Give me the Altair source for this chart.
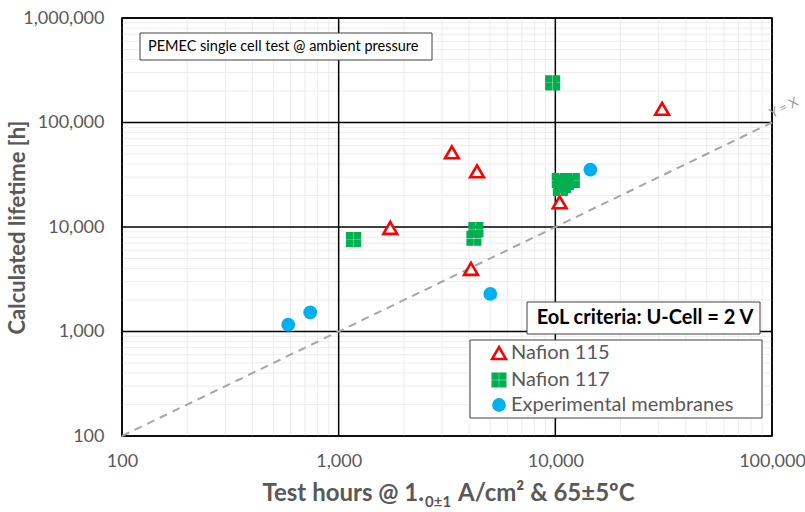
import altair as alt
import pandas as pd

# ---------------- data ----------------
series_names = ["Nafion 115", "Nafion 117", "Experimental membranes"]

n115_x = [1730, 3330, 4350, 4080, 10470, 31100]
n115_y = [9800, 51900, 34150, 3970, 17240, 135100]

n117_x = [1170, 9720, 4300, 4210, 10430, 11980, 11240, 10550, 10890]
n117_y = [7580, 239600, 9440, 7800, 27820, 27820, 26610, 23320, 24910]

exp_x = [585, 739, 5010, 14510]
exp_y = [1163, 1525, 2288, 35430]

x_major = [100, 1000, 10000, 100000]
y_major = [100, 1000, 10000, 100000, 1000000]
x_minor = [m * d for d in [100, 1000, 10000] for m in range(2, 10)]
y_minor = [m * d for d in [100, 1000, 10000, 100000] for m in range(2, 10)]
diag_vals = [100, 100000]

# ---------------- tables ----------------
pts = pd.DataFrame(
    {
        "x": n115_x + n117_x + exp_x,
        "y": n115_y + n117_y + exp_y,
        "series": [series_names[0]] * len(n115_x)
        + [series_names[1]] * len(n117_x)
        + [series_names[2]] * len(exp_x),
    }
)
diag = pd.DataFrame({"x": diag_vals, "y": diag_vals})
xmin_df = pd.DataFrame({"x": x_minor})
ymin_df = pd.DataFrame({"y": y_minor})
xmaj_df = pd.DataFrame({"x": x_major})
ymaj_df = pd.DataFrame({"y": y_major})

W, H = 650, 418
FONT = "Lato"
GRAY = "#595959"

xscale = alt.Scale(type="log", domain=[100, 100000], nice=False)
yscale = alt.Scale(type="log", domain=[100, 1000000], nice=False)

xaxis = alt.Axis(values=x_major, format=",", grid=False, ticks=False, domain=False,
                 labelFont=FONT, labelFontSize=18, labelColor=GRAY, labelPadding=16,
                 labelFlush=False, labelOverlap=False, title=None)
yaxis = alt.Axis(values=y_major, format=",", grid=False, ticks=False, domain=False,
                 labelFont=FONT, labelFontSize=18, labelColor=GRAY, labelPadding=18,
                 labelFlush=False, labelOverlap=False,
                 title="Calculated lifetime [h]", titleFont=FONT, titleFontSize=22,
                 titleFontWeight="bold", titleColor=GRAY, titleAngle=270,
                 titleX=-105, titleY=H / 2, titleAlign="center", titleBaseline="middle")

X = alt.X("x:Q", scale=xscale, axis=xaxis)
Y = alt.Y("y:Q", scale=yscale, axis=yaxis)

minor_x = alt.Chart(xmin_df).mark_rule(color="#ECECEC", strokeWidth=1).encode(x=X)
minor_y = alt.Chart(ymin_df).mark_rule(color="#ECECEC", strokeWidth=1).encode(y=Y)
major_x = alt.Chart(xmaj_df).mark_rule(color="black", strokeWidth=1.5).encode(x=X)
major_y = alt.Chart(ymaj_df).mark_rule(color="black", strokeWidth=1.5).encode(y=Y)

diag_line = alt.Chart(diag).mark_line(
    color="#A6A6A6", strokeWidth=2, strokeDash=[8, 6]
).encode(x=X, y=Y)

diag_label = alt.Chart(diag.iloc[[1]]).mark_text(
    text="Y = X", color="#9A9A9A", fontSize=13, font=FONT, angle=334,
    dx=17, dy=-8, align="center", baseline="middle"
).encode(x=X, y=Y)

one = pd.DataFrame({"a": [0]})

# annotation boxes
box1 = alt.Chart(one).mark_rect(
    fill="white", stroke="#404040", strokeWidth=1
).encode(x=alt.value(18), x2=alt.value(310), y=alt.value(15), y2=alt.value(42))
txt1 = alt.Chart(one).mark_text(
    text="PEMEC single cell test @ ambient pressure", font=FONT, fontSize=14.5,
    color="black", align="left", baseline="middle"
).encode(x=alt.value(26), y=alt.value(28.5))

box2 = alt.Chart(one).mark_rect(
    fill="white", stroke="#404040", strokeWidth=1
).encode(x=alt.value(405), x2=alt.value(638), y=alt.value(284), y2=alt.value(316))
txt2 = alt.Chart(one).mark_text(
    text="EoL criteria: U-Cell = 2 V", font=FONT, fontSize=20, fontWeight="bold",
    color="black", align="center", baseline="middle"
).encode(x=alt.value(523), y=alt.value(300))

legend_box = alt.Chart(one).mark_rect(
    fill="white", stroke="#404040", strokeWidth=1
).encode(x=alt.value(348), x2=alt.value(640), y=alt.value(322), y2=alt.value(400))

square_cross = (
    "M-1,-1H-0.12V-0.12H-1Z M0.12,-1H1V-0.12H0.12Z "
    "M-1,0.12H-0.12V1H-1Z M0.12,0.12H1V1H0.12Z"
)

points = alt.Chart(pts).mark_point(filled=False, opacity=1, size=190).encode(
    x=X,
    y=Y,
    shape=alt.Shape("series:N", scale=alt.Scale(domain=series_names,
                    range=["triangle-up", square_cross, "circle"]),
                    legend=alt.Legend(title=None)),
    fill=alt.Fill("series:N", scale=alt.Scale(domain=series_names,
                  range=["white", "#00B050", "#00B0F0"]), legend=alt.Legend(title=None)),
    stroke=alt.Stroke("series:N", scale=alt.Scale(domain=series_names,
                      range=["#FF0000", "#00B050", "#A5B94E"]), legend=alt.Legend(title=None)),
    strokeWidth=alt.StrokeWidth("series:N", scale=alt.Scale(domain=series_names,
                                range=[2.6, 0.01, 1]), legend=alt.Legend(title=None)),
)

# x axis title composed from parts (subscript)
TS = 24
SHIFT = -22
xt1 = alt.Chart(one).mark_text(
    text="Test hours @ 1.", font=FONT, fontSize=TS, fontWeight="bold", color=GRAY,
    align="right", baseline="alphabetic"
).encode(x=alt.value(324 + SHIFT), y=alt.value(483))
xt2 = alt.Chart(one).mark_text(
    text="0±1", font=FONT, fontSize=15, fontWeight="bold", color=GRAY,
    align="left", baseline="alphabetic"
).encode(x=alt.value(325 + SHIFT), y=alt.value(489))
xt3 = alt.Chart(one).mark_text(
    text="A/cm² & 65±5ºC", font=FONT, fontSize=TS, fontWeight="bold", color=GRAY,
    align="left", baseline="alphabetic"
).encode(x=alt.value(358 + SHIFT), y=alt.value(483))

chart = alt.layer(
    minor_x, minor_y, major_x, major_y, diag_line, diag_label,
    box1, txt1, box2, txt2, legend_box, points, xt1, xt2, xt3
).properties(
    width=W, height=H,
    autosize=alt.AutoSizeParams(type="none"),
    padding={"left": 122, "top": 18, "right": 805 - 122 - W, "bottom": 512 - 18 - H},
).configure_view(
    stroke="black", strokeWidth=1.5
).configure_legend(
    orient="none", legendX=367, legendY=325, padding=0, rowPadding=5,
    labelFont=FONT, labelFontSize=20, labelColor=GRAY, labelOffset=2, labelLimit=400,
    symbolSize=190,
)

chart.save("out.html", embed_options={"renderer": "svg", "actions": False})
